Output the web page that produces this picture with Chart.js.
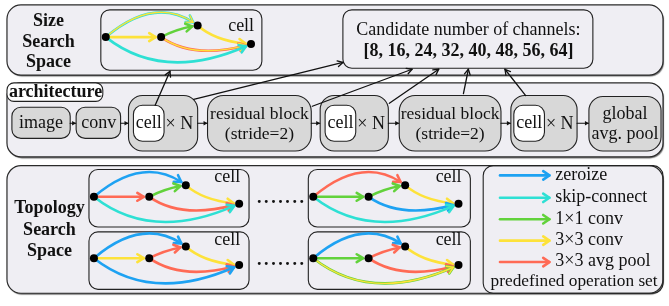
<!DOCTYPE html>
<html><head><meta charset="utf-8">
<script src="https://cdn.jsdelivr.net/npm/chart.js@4/dist/chart.umd.min.js"></script>
<style>html,body{margin:0;padding:0;background:#fff;}#wrap{width:669px;height:306px;}</style>
</head><body><div id="wrap"><canvas id="c" width="669" height="306"></canvas></div>
<script>
// ---- content ----
const channels = [8, 16, 24, 32, 40, 48, 56, 64];
const opNames = ['zeroize', 'skip-connect', '1\u00d71 conv', '3\u00d73 conv', '3\u00d73 avg pool'];
const opColors = ['#1ea2f2', '#2ee0d4', '#62d23b', '#fde23a', '#ff6a55'];
const stages = ['image', 'conv', 'cell', 'residual block', 'cell', 'residual block', 'cell', 'global avg. pool'];
// cell DAG (node 0..3), node offsets relative to node 0
const nodeOffsets = [[0, 0], [56, 0], [93, -12], [147, 7]];
const cellEdges = [[0, 2], [0, 1], [1, 2], [2, 3], [1, 3], [0, 3]];
const edgeCtrl = [[51, -44], [28, 0], [73, -9], [112, 5], [90, 24], [60, 48]];
// node 0 location of each drawn cell: size-space cell, then 4 topology cells
const cellOrigins = [[103, 34], [91, 198], [91, 261], [313, 198], [313, 261]];
// operation index per edge (second index = blended overlay)
const cellOps = [
  [[1, 3], [3], [2], [3], [4, 3], [1]],
  [[0], [4], [2], [3], [4], [1]],
  [[0], [3], [4], [3], [4], [0]],
  [[4], [2], [2], [3], [0], [1]],
  [[0], [2], [4], [3], [4], [2, 3]]
];
// ---- layout (boxes: x0,y0,x1,y1,radius) ----
const outerBoxes = [[3, 1, 667, 73, 14], [3, 81, 667, 157, 14], [3, 166, 667, 297, 14]];
const plainBoxes = [[98, 6, 261, 68, 9], [343, 6, 596, 66, 9],
  [86, 170, 248, 229, 9], [86, 234, 248, 293, 9], [308, 170, 472, 229, 9], [308, 234, 472, 293, 9],
  [485, 166, 667, 297, 10]];
const grayBoxes = [[8, 106, 67, 138, 9], [73, 106, 118, 138, 9], [126, 94, 196, 151, 14], [206, 94, 311, 151, 16],
  [320, 94, 389, 151, 14], [400, 94, 503, 151, 16], [513, 94, 580, 151, 14], [592, 95, 665, 151, 14]];
const whiteBoxes = [[3, 81, 100, 100, 7], [131, 104, 162, 141, 9], [325, 104, 356, 141, 9], [516, 104, 547, 141, 9]];
const flowArrows = [[67, 73], [118, 126], [196, 206], [311, 320], [389, 400], [503, 513], [580, 592]];
const linkArrows = [[153, 104, 168, 69], [192, 98, 343, 60], [312, 105, 413, 67], [390, 102, 440, 67], [465, 92, 470, 67], [528, 94, 507, 67]];
const legendY = [176, 199, 221, 243, 265];

const nodes = [];
cellOrigins.forEach(o => nodeOffsets.forEach(d => nodes.push({x: o[0] + d[0], y: o[1] + d[1]})));

const SERIF = '"Liberation Serif", "Times New Roman", serif';

function rr(ctx, x0, y0, x1, y1, r) {
  ctx.beginPath();
  ctx.roundRect(x0, y0, x1 - x0, y1 - y0, r);
}
function chevron(ctx, tx, ty, dx, dy, len, ang) {
  const a = Math.atan2(dy, dx);
  ctx.beginPath();
  ctx.moveTo(tx - len * Math.cos(a - ang), ty - len * Math.sin(a - ang));
  ctx.lineTo(tx, ty);
  ctx.lineTo(tx - len * Math.cos(a + ang), ty - len * Math.sin(a + ang));
  ctx.stroke();
}

const diagram = {
  id: 'diagram',
  beforeDatasetsDraw(chart) {
    const ctx = chart.ctx, X = v => chart.scales.x.getPixelForValue(v), Y = v => chart.scales.y.getPixelForValue(v);
    ctx.save();
    ctx.lineJoin = 'round'; ctx.lineCap = 'round';
    outerBoxes.forEach(b => {
      ctx.save();
      ctx.shadowColor = 'rgba(0,0,0,0.55)'; ctx.shadowOffsetX = 1; ctx.shadowOffsetY = 1.5; ctx.shadowBlur = 1;
      rr(ctx, X(b[0]), Y(b[1]), X(b[2]), Y(b[3]), b[4]);
      ctx.fillStyle = '#efeef3'; ctx.fill();
      ctx.restore();
      rr(ctx, X(b[0]), Y(b[1]), X(b[2]), Y(b[3]), b[4]);
      ctx.strokeStyle = '#2a2a2a'; ctx.lineWidth = 1.2; ctx.stroke();
    });
    ctx.lineWidth = 1.1; ctx.strokeStyle = '#222';
    plainBoxes.forEach(b => { rr(ctx, X(b[0]), Y(b[1]), X(b[2]), Y(b[3]), b[4]); ctx.stroke(); });
    grayBoxes.forEach(b => { rr(ctx, X(b[0]), Y(b[1]), X(b[2]), Y(b[3]), b[4]); ctx.fillStyle = '#d8d8d8'; ctx.fill(); ctx.stroke(); });
    whiteBoxes.forEach(b => { rr(ctx, X(b[0]), Y(b[1]), X(b[2]), Y(b[3]), b[4]); ctx.fillStyle = '#fff'; ctx.fill(); ctx.stroke(); });
    ctx.strokeStyle = '#111'; ctx.lineWidth = 1.1;
    flowArrows.forEach(a => {
      const y = Y(122.5);
      ctx.beginPath(); ctx.moveTo(X(a[0]), y); ctx.lineTo(X(a[1]) - 0.5, y); ctx.stroke();
      ctx.beginPath(); ctx.moveTo(X(a[1]), y); ctx.lineTo(X(a[1]) - 4, y - 2.2); ctx.lineTo(X(a[1]) - 4, y + 2.2); ctx.closePath();
      ctx.fillStyle = '#111'; ctx.fill();
    });
    ctx.lineWidth = 1.3;
    linkArrows.forEach(a => {
      ctx.beginPath(); ctx.moveTo(X(a[0]), Y(a[1])); ctx.lineTo(X(a[2]), Y(a[3])); ctx.stroke();
      chevron(ctx, X(a[2]), Y(a[3]), X(a[2]) - X(a[0]), Y(a[3]) - Y(a[1]), 6, 0.5);
    });
    cellOrigins.forEach((o, ci) => {
      cellEdges.forEach((e, ei) => {
        const p0 = [X(o[0] + nodeOffsets[e[0]][0]), Y(o[1] + nodeOffsets[e[0]][1])];
        const p2 = [X(o[0] + nodeOffsets[e[1]][0]), Y(o[1] + nodeOffsets[e[1]][1])];
        const p1 = [X(o[0] + edgeCtrl[ei][0]), Y(o[1] + edgeCtrl[ei][1])];
        const B = t => [(1 - t) * (1 - t) * p0[0] + 2 * (1 - t) * t * p1[0] + t * t * p2[0], (1 - t) * (1 - t) * p0[1] + 2 * (1 - t) * t * p1[1] + t * t * p2[1]];
        let lo = 0, hi = 1;
        for (let k = 0; k < 30; k++) { const m = (lo + hi) / 2; const q = B(m); const d = Math.hypot(q[0] - p2[0], q[1] - p2[1]); if (d > 5.5) lo = m; else hi = m; }
        const t = lo, tip = B(t);
        const c = [p0[0] + t * (p1[0] - p0[0]), p0[1] + t * (p1[1] - p0[1])];
        const tan = [2 * (1 - t) * (p1[0] - p0[0]) + 2 * t * (p2[0] - p1[0]), 2 * (1 - t) * (p1[1] - p0[1]) + 2 * t * (p2[1] - p1[1])];
        cellOps[ci][ei].forEach((op, k) => {
          ctx.strokeStyle = opColors[op];
          ctx.lineWidth = k === 0 ? 2.6 : 1.4;
          ctx.beginPath(); ctx.moveTo(p0[0], p0[1]); ctx.quadraticCurveTo(c[0], c[1], tip[0], tip[1]); ctx.stroke();
          chevron(ctx, tip[0], tip[1], tan[0], tan[1], 7.5, 0.55);
        });
      });
    });
    legendY.forEach((y, i) => {
      ctx.strokeStyle = opColors[i]; ctx.lineWidth = 2.6;
      ctx.beginPath(); ctx.moveTo(X(502), Y(y)); ctx.lineTo(X(552), Y(y)); ctx.stroke();
      chevron(ctx, X(552), Y(y), 1, 0, 7.5, 0.6);
    });
    ctx.restore();
  },
  afterDatasetsDraw(chart) {
    const ctx = chart.ctx, X = v => chart.scales.x.getPixelForValue(v), Y = v => chart.scales.y.getPixelForValue(v);
    ctx.save();
    ctx.fillStyle = '#111';
    ctx.textBaseline = 'alphabetic';
    const T = (s, x, y, align, bold, size) => {
      ctx.font = (bold ? 'bold ' : '') + (size || 18) + 'px ' + SERIF;
      ctx.textAlign = align; ctx.fillText(s, X(x), Y(y));
    };
    T('Size', 45, 23, 'center', true); T('Search', 45, 44, 'center', true); T('Space', 45, 65, 'center', true);
    T('cell', 240, 28, 'center');
    T('Candidate number of channels:', 470, 32, 'center');
    T('[' + channels.join(', ') + ']', 470, 53, 'center', true);
    T('architecture', 5, 96, 'left', true);
    T(stages[0], 37.5, 127, 'center');
    T(stages[1], 96, 127, 'center');
    [[146.5, 162], [340.5, 356], [531.5, 547]].forEach(c => { T(stages[2], c[0], 127, 'center'); T('\u00d7 N', c[1] + 1.5, 128, 'left'); });
    T('residual block', 258.5, 118, 'center', false, 17.5); T('(stride=2)', 258.5, 139, 'center', false, 17.5);
    T('residual block', 451.5, 118, 'center', false, 17.5); T('(stride=2)', 451.5, 139, 'center', false, 17.5);
    T('global', 628.5, 118, 'center'); T('avg. pool', 628.5, 139, 'center');
    T('Topology', 46, 215, 'center', true); T('Search', 46, 237, 'center', true); T('Space', 46, 259, 'center', true);
    [[226, 183], [226, 247], [450, 183], [450, 247]].forEach(p => T('cell', p[0], p[1], 'center'));
    ctx.font = 'bold 18px ' + SERIF; ctx.textAlign = 'left';
    ctx.letterSpacing = '2.6px';
    ctx.fillText('.......', X(256), Y(204)); ctx.fillText('.......', X(256), Y(268));
    ctx.letterSpacing = '0px';
    opNames.forEach((n, i) => T(n, 558, legendY[i] + 4.5, 'left'));
    T('predefined operation set', 577, 290, 'center', false, 17.3);
    ctx.restore();
  }
};

new Chart(document.getElementById('c').getContext('2d'), {
  type: 'scatter',
  data: {datasets: [{data: nodes, pointRadius: 4, pointHoverRadius: 4, pointBackgroundColor: '#000', pointBorderWidth: 0, showLine: false}]},
  options: {
    responsive: false, devicePixelRatio: 1, animation: false, events: [],
    layout: {padding: 0},
    plugins: {legend: {display: false}, tooltip: {enabled: false}},
    scales: {
      x: {type: 'linear', min: 0, max: 669, display: false},
      y: {type: 'linear', min: 0, max: 306, reverse: true, display: false}
    }
  },
  plugins: [diagram]
});
</script></body></html>
